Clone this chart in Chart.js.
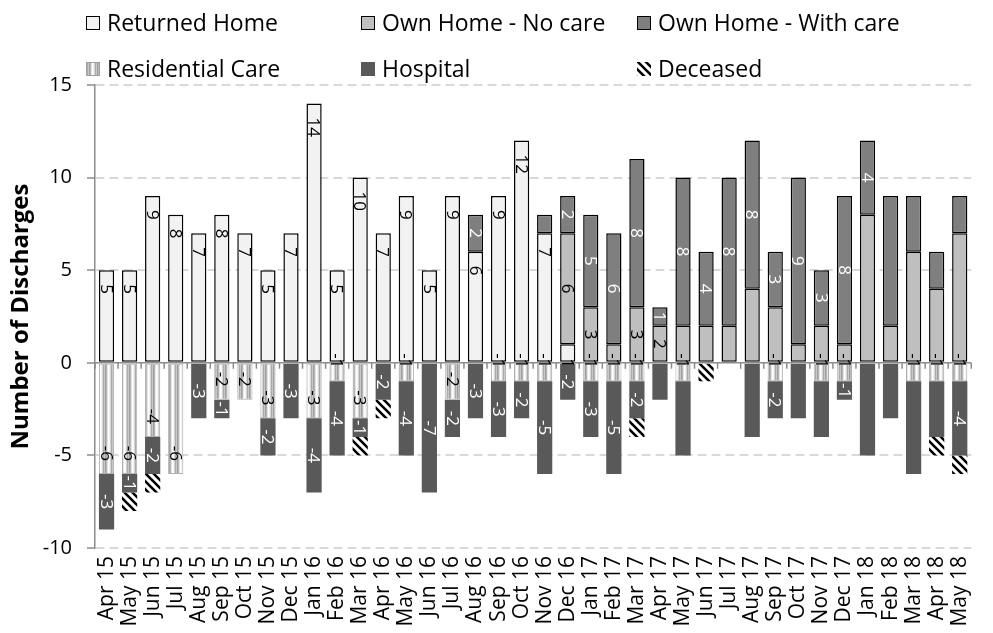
<!DOCTYPE html>
<html>
<head>
<meta charset="utf-8">
<script src="https://cdn.jsdelivr.net/npm/chart.js@4.4.1/dist/chart.umd.min.js"></script>
<style>
    html, body { margin: 0; padding: 0; background: #ffffff; }
    #dischargesContainer { position: relative; width: 993px; height: 633px; }
</style>
</head>
<body>
<div id="dischargesContainer">
    <canvas id="dischargesChart"></canvas>
</div>

<script>
var months = ['Apr 15', 'May 15', 'Jun 15', 'Jul 15', 'Aug 15', 'Sep 15', 'Oct 15', 'Nov 15', 'Dec 15',
    'Jan 16', 'Feb 16', 'Mar 16', 'Apr 16', 'May 16', 'Jun 16', 'Jul 16', 'Aug 16', 'Sep 16', 'Oct 16', 'Nov 16', 'Dec 16',
    'Jan 17', 'Feb 17', 'Mar 17', 'Apr 17', 'May 17', 'Jun 17', 'Jul 17', 'Aug 17', 'Sep 17', 'Oct 17', 'Nov 17', 'Dec 17',
    'Jan 18', 'Feb 18', 'Mar 18', 'Apr 18', 'May 18'];

var returnedHome    = [5, 5, 9, 8, 7, 8, 7, 5, 7, 14, 5, 10, 7, 9, 5, 9, 6, 9, 12, 7, 1,
                       0, 0, 0, 0, 0, 0, 0, 0, 0, 0, 0, 0, 0, 0, 0, 0, 0];
var ownHomeNoCare   = [0, 0, 0, 0, 0, 0, 0, 0, 0, 0, 0, 0, 0, 0, 0, 0, 0, 0, 0, 0, 6,
                       3, 1, 3, 2, 2, 2, 2, 4, 3, 1, 2, 1, 8, 2, 6, 4, 7];
var ownHomeWithCare = [0, 0, 0, 0, 0, 0, 0, 0, 0, 0, 0, 0, 0, 0, 0, 0, 2, 0, 0, 1, 2,
                       5, 6, 8, 1, 8, 4, 8, 8, 3, 9, 3, 8, 4, 7, 3, 2, 2];
var residentialCare = [-6, -6, -4, -6, 0, -2, -2, -3, 0, -3, -1, -3, 0, -1, 0, -2, 0, -1, -1, -1, 0,
                       -1, -1, -1, 0, -1, 0, 0, 0, -1, 0, -1, -1, 0, 0, -1, -1, -1];
var hospital        = [-3, -1, -2, 0, -3, -1, 0, -2, -3, -4, -4, -1, -2, -4, -7, -2, -3, -3, -2, -5, -2,
                       -3, -5, -2, -2, -4, 0, 0, -4, -2, -3, -3, -1, -5, -3, -5, -3, -4];
var deceased        = [0, -1, -1, 0, 0, 0, 0, 0, 0, 0, 0, -1, -1, 0, 0, 0, 0, 0, 0, 0, 0,
                       0, 0, -1, 0, 0, -1, 0, 0, 0, 0, 0, 0, 0, 0, 0, -1, -1];

// months (by index) where the original leaves the segment unlabelled
var noLabel = {
    'Own Home - No care': [22, 25, 26, 27, 28, 29, 30, 31, 32, 33, 34, 35, 36, 37],
    'Own Home - With care': [19, 34, 35, 36, 37],
    'Hospital': [24, 25, 28, 30, 31, 33, 34, 35, 36],
    'Deceased': months.map(function (m, i) { return i; })
};

var yTicks = [-10, -5, 0, 5, 10, 15];

function stripePattern() {
    var c = document.createElement('canvas');
    c.width = 8; c.height = 4;
    var g = c.getContext('2d');
    var cols = ['#c8c8c8', '#9e9e9e', '#b8b8b8', '#e4e4e4', '#ffffff', '#f4f4f4', '#d6d6d6', '#ababab'];
    cols.forEach(function (col, i) { g.fillStyle = col; g.fillRect(i, 0, 1, 4); });
    return g.createPattern(c, 'repeat');
}

function hatchPattern() {
    var c = document.createElement('canvas');
    c.width = 8; c.height = 8;
    var g = c.getContext('2d');
    g.fillStyle = '#ffffff';
    g.fillRect(0, 0, 8, 8);
    g.strokeStyle = '#000000';
    g.lineWidth = 2.6;
    g.beginPath();
    g.moveTo(-2, -2); g.lineTo(10, 10);
    g.moveTo(-6, 2); g.lineTo(6, 14);
    g.moveTo(2, -6); g.lineTo(14, 6);
    g.stroke();
    return g.createPattern(c, 'repeat');
}

document.addEventListener('DOMContentLoaded', function () {
    var ctx = document.getElementById('dischargesChart').getContext('2d');
    Chart.defaults.font.family = "'Open Sans', sans-serif";
    Chart.defaults.color = '#000000';

    var residentialFill = stripePattern();
    var deceasedFill = hatchPattern();

    function noZero(arr) {
        return arr.map(function (v) { return v === 0 ? null : v; });
    }

    var datasets = [
        { label: 'Returned Home', data: noZero(returnedHome), backgroundColor: '#f2f2f2',
          borderColor: '#000000', borderWidth: 1.5, labelColor: '#000000', labelAt: 'end' },
        { label: 'Own Home - No care', data: noZero(ownHomeNoCare), backgroundColor: '#bfbfbf',
          borderColor: '#000000', borderWidth: 1.5, labelColor: '#000000', labelAt: 'center' },
        { label: 'Own Home - With care', data: noZero(ownHomeWithCare), backgroundColor: '#7f7f7f',
          borderColor: '#000000', borderWidth: 1.5, labelColor: '#ffffff', labelAt: 'center' },
        { label: 'Residential Care', data: noZero(residentialCare), backgroundColor: residentialFill,
          borderColor: '#b0b0b0', borderWidth: 1, labelColor: '#000000', labelAt: 'end' },
        { label: 'Hospital', data: noZero(hospital), backgroundColor: '#595959',
          borderWidth: 0, labelColor: '#ffffff', labelAt: 'center' },
        { label: 'Deceased', data: noZero(deceased), backgroundColor: deceasedFill,
          borderWidth: 0, labelColor: '#ffffff', labelAt: 'center' }
    ];
    datasets.forEach(function (d) {
        d.borderSkipped = false;
        d.barPercentage = 0.66;
        d.categoryPercentage = 1.0;
    });

    var config = {
        type: 'bar',
        data: { labels: months, datasets: datasets },
        options: {
            responsive: true,
            maintainAspectRatio: false,
            animation: false,
            layout: { padding: { top: 85, right: 5, left: 0, bottom: 0 } },
            scales: {
                x: {
                    stacked: true,
                    grid: { display: false, drawTicks: false },
                    border: { display: false },
                    ticks: {
                        autoSkip: false,
                        maxRotation: 90,
                        minRotation: 90,
                        padding: 8,
                        font: { size: 21 }
                    },
                    afterFit: function (scale) { scale.height = 85; }
                },
                y: {
                    stacked: true,
                    min: -10,
                    max: 15,
                    afterBuildTicks: function (scale) {
                        scale.ticks = yTicks.map(function (v) { return { value: v }; });
                    },
                    grid: {
                        color: function (c) { return c.tick && c.tick.value === 0 ? 'rgba(0,0,0,0)' : '#d9d9d9'; },
                        lineWidth: 2,
                        tickColor: '#8c8c8c',
                        tickLength: 8,
                        tickWidth: 1.5
                    },
                    border: { display: true, color: '#8c8c8c', width: 1.5, dash: [9, 5] },
                    ticks: { padding: 15, font: { size: 20 } },
                    title: {
                        display: true,
                        text: 'Number of Discharges',
                        font: { size: 24, weight: 'bold' },
                        padding: { top: 7, bottom: 0 }
                    },
                    afterFit: function (scale) { scale.width = 95; }
                }
            },
            plugins: {
                legend: { display: false },
                tooltip: { enabled: false }
            }
        },
        plugins: [{
            id: 'zeroAxisAndLabels',
            afterDatasetsDraw: function (chart) {
                var c = chart.ctx;
                var area = chart.chartArea;
                var y0 = chart.scales.y.getPixelForValue(0);
                var n = chart.data.labels.length;
                var step = (area.right - area.left) / n;

                // horizontal axis crossing at zero, with category tick marks
                c.save();
                c.strokeStyle = '#8c8c8c';
                c.lineWidth = 1.5;
                c.beginPath();
                c.moveTo(area.left, y0);
                c.lineTo(area.right, y0);
                for (var k = 0; k <= n; k++) {
                    var tx = area.left + k * step;
                    c.moveTo(tx, y0);
                    c.lineTo(tx, y0 + 6);
                }
                c.stroke();
                c.restore();

                // rotated value labels
                chart.data.datasets.forEach(function (dataset, i) {
                    var meta = chart.getDatasetMeta(i);
                    var skip = noLabel[dataset.label] || [];
                    meta.data.forEach(function (bar, j) {
                        var v = dataset.data[j];
                        if (v === null || skip.indexOf(j) !== -1) return;
                        c.save();
                        c.font = "17px 'Open Sans', sans-serif";
                        c.fillStyle = dataset.labelColor;
                        c.textBaseline = 'middle';
                        if (dataset.labelAt === 'end' && v > 0) {
                            c.translate(bar.x, bar.y + 14);
                            c.textAlign = 'left';
                        } else if (dataset.labelAt === 'end') {
                            c.translate(bar.x, bar.y - 13);
                            c.textAlign = 'right';
                        } else {
                            c.translate(bar.x, (bar.y + bar.base) / 2);
                            c.textAlign = 'center';
                        }
                        c.rotate(Math.PI / 2);
                        c.fillText(String(v), 0, 1);
                        c.restore();
                    });
                });
            },
            afterDraw: function (chart) {
                // two-row legend, three columns
                var c = chart.ctx;
                var colX = [86, 361, 637];
                var rowY = [23, 69];
                chart.data.datasets.forEach(function (dataset, i) {
                    var x = colX[i % 3];
                    var y = rowY[Math.floor(i / 3)];
                    c.save();
                    c.fillStyle = dataset.backgroundColor;
                    c.fillRect(x, y - 7, 14, 14);
                    if (dataset.borderWidth > 0) {
                        c.strokeStyle = i === 3 ? '#a0a0a0' : '#000000';
                        c.lineWidth = 1;
                        c.strokeRect(x + 0.5, y - 6.5, 13, 13);
                    }
                    c.fillStyle = '#000000';
                    c.font = "23px 'Open Sans', sans-serif";
                    c.textAlign = 'left';
                    c.textBaseline = 'middle';
                    c.fillText(dataset.label, x + 21, y + 1);
                    c.restore();
                });
            }
        }]
    };

    new Chart(ctx, config);
});
</script>
</body>
</html>
